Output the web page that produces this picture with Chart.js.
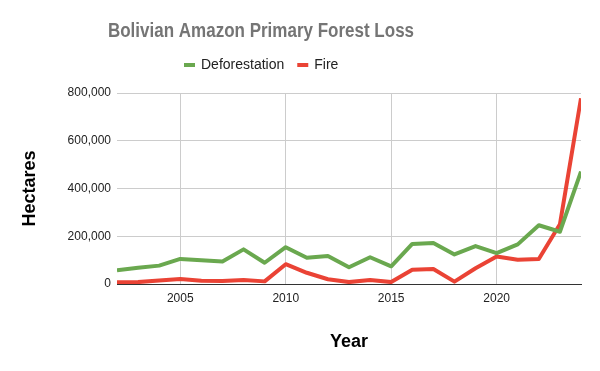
<!DOCTYPE html>
<html>
<head>
<meta charset="utf-8">
<script src="https://cdn.jsdelivr.net/npm/chart.js@4.4.1/dist/chart.umd.min.js"></script>
<style>
    html, body { margin: 0; padding: 0; background: #fff; }
    #wrap { width: 600px; height: 371px; }
</style>
</head>
<body>
<div id="wrap"><canvas id="lossChart" width="600" height="371"></canvas></div>
<script>
// data (hectares)
const years = [2002, 2003, 2004, 2005, 2006, 2007, 2008, 2009, 2010, 2011, 2012, 2013,
    2014, 2015, 2016, 2017, 2018, 2019, 2020, 2021, 2022, 2023, 2024];
const deforestation = [58000, 68000, 77000, 105000, 99000, 94000, 145000, 89000, 154000, 110000, 117000, 70000,
    112000, 74000, 168000, 172000, 124000, 159000, 129000, 166000, 246000, 219000, 471000];
const fire = [7000, 8000, 15000, 21000, 14000, 13000, 17000, 11000, 83000, 47000, 20000, 8000,
    17000, 8000, 60000, 63000, 10000, 66000, 115000, 102000, 105000, 250000, 778000];
const yearTicks = [2005, 2010, 2015, 2020];
const valueTicks = [0, 200000, 400000, 600000, 800000];

const chartTitle = 'Bolivian Amazon Primary Forest Loss';
const seriesNames = ['Deforestation', 'Fire'];
const seriesColors = ['#6aa84f', '#ea4335'];

// pair each value with its year
function toPoints(values) {
    return years.map((y, i) => ({ x: y, y: values[i] }));
}

// title + legend sit left of centre in the original, so draw them ourselves
const headerPlugin = {
    id: 'header',
    afterDraw(chart) {
        const ctx = chart.ctx;
        ctx.save();
        ctx.textBaseline = 'middle';
        ctx.textAlign = 'center';
        ctx.fillStyle = '#757575';
        ctx.font = 'bold 20px "Liberation Sans", Arial, sans-serif';
        // the original title is a bit condensed
        ctx.translate(261, 31);
        ctx.scale(0.85, 1);
        ctx.fillText(chartTitle, 0, 0);
        ctx.restore();

        ctx.save();
        ctx.textBaseline = 'middle';
        ctx.textAlign = 'left';
        ctx.font = '14px "Liberation Sans", Arial, sans-serif';
        let x = 184;
        seriesNames.forEach((name, i) => {
            ctx.fillStyle = seriesColors[i];
            ctx.fillRect(x, 63, 11, 4);
            ctx.fillStyle = '#222';
            ctx.fillText(name, x + 17, 65);
            x += 17 + ctx.measureText(name).width + 13;
        });
        ctx.restore();
    }
};

const ctx = document.getElementById('lossChart').getContext('2d');
new Chart(ctx, {
    type: 'line',
    data: {
        datasets: [
            {
                label: seriesNames[0],
                data: toPoints(deforestation),
                borderColor: seriesColors[0],
                backgroundColor: seriesColors[0],
                borderWidth: 4,
                pointRadius: 0,
                borderJoinStyle: 'round',
                tension: 0
            },
            {
                label: seriesNames[1],
                data: toPoints(fire),
                borderColor: seriesColors[1],
                backgroundColor: seriesColors[1],
                borderWidth: 4,
                pointRadius: 0,
                borderJoinStyle: 'round',
                tension: 0
            }
        ]
    },
    options: {
        responsive: false,
        animation: false,
        layout: {
            padding: { top: 93, right: 19, left: 0, bottom: 0 }
        },
        plugins: {
            legend: { display: false },
            title: { display: false },
            tooltip: { enabled: false }
        },
        scales: {
            x: {
                type: 'linear',
                min: years[0],
                max: years[years.length - 1],
                afterBuildTicks: (scale) => {
                    scale.ticks = yearTicks.map(v => ({ value: v }));
                },
                afterFit: (scale) => { scale.height = 87; },
                grid: { color: '#cccccc', drawTicks: false },
                border: { color: '#333333', width: 1 },
                ticks: {
                    padding: 7,
                    color: '#222',
                    font: { family: '"Liberation Sans", Arial, sans-serif', size: 12 },
                    callback: (v) => String(v)
                },
                title: {
                    display: true,
                    text: 'Year',
                    color: '#000',
                    font: { family: '"Liberation Sans", Arial, sans-serif', size: 18, weight: 'bold' },
                    padding: { top: 0, bottom: 18 }
                }
            },
            y: {
                min: 0,
                max: 800000,
                afterBuildTicks: (scale) => {
                    scale.ticks = valueTicks.map(v => ({ value: v }));
                },
                afterFit: (scale) => { scale.width = 117; },
                grid: {
                    drawTicks: false,
                    color: (c) => c.tick && c.tick.value === 0 ? '#333333' : '#cccccc'
                },
                border: { display: false },
                ticks: {
                    padding: 6,
                    color: '#222',
                    font: { family: '"Liberation Sans", Arial, sans-serif', size: 12 },
                    callback: (v) => v.toLocaleString('en-US')
                },
                title: {
                    display: true,
                    text: 'Hectares',
                    color: '#000',
                    font: { family: '"Liberation Sans", Arial, sans-serif', size: 18, weight: 'bold' },
                    padding: { top: 19, bottom: 0 }
                }
            }
        }
    },
    plugins: [headerPlugin]
});
</script>
</body>
</html>
